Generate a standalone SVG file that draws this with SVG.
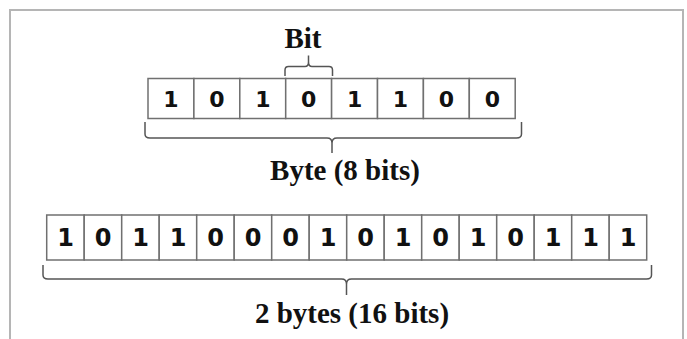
<svg xmlns="http://www.w3.org/2000/svg" width="687" height="339" viewBox="0 0 687 339">
<style>
.frame{fill:none;stroke:#b5b5b5;stroke-width:2}
.cell{fill:#fff;stroke:#707070;stroke-width:1.5}
.brace{fill:none;stroke:#555;stroke-width:1.5}
.d1{font-family:"DejaVu Sans",sans-serif;font-weight:bold;font-size:22px;fill:#111;text-anchor:middle}
.d2{font-family:"DejaVu Sans",sans-serif;font-weight:bold;font-size:24px;fill:#111;text-anchor:middle}
.lbl{font-family:"Liberation Serif","Times New Roman",serif;font-weight:bold;font-size:29px;fill:#111;text-anchor:middle}
</style>
<rect width="687" height="339" fill="#fff"/>
<path class="frame" d="M10,345 V10 H683 V345"/>
<g id="bit-label"><text class="lbl" x="303" y="48">Bit</text></g>
<g id="byte-row">
<rect class="cell" x="148" y="78.5" width="45.9" height="40"/>
<rect class="cell" x="193.9" y="78.5" width="45.9" height="40"/>
<rect class="cell" x="239.8" y="78.5" width="45.9" height="40"/>
<rect class="cell" x="285.7" y="78.5" width="45.9" height="40"/>
<rect class="cell" x="331.6" y="78.5" width="45.9" height="40"/>
<rect class="cell" x="377.5" y="78.5" width="45.9" height="40"/>
<rect class="cell" x="423.4" y="78.5" width="45.9" height="40"/>
<rect class="cell" x="469.3" y="78.5" width="45.9" height="40"/>
<text class="d1" x="171" y="107">1</text>
<text class="d1" x="216.9" y="107">0</text>
<text class="d1" x="262.8" y="107">1</text>
<text class="d1" x="308.7" y="107">0</text>
<text class="d1" x="354.6" y="107">1</text>
<text class="d1" x="400.5" y="107">1</text>
<text class="d1" x="446.4" y="107">0</text>
<text class="d1" x="492.3" y="107">0</text>
</g>
<g id="byte-label"><text class="lbl" x="345" y="180">Byte (8 bits)</text></g>
<g id="word-row">
<rect class="cell" x="46.7" y="215" width="37.5" height="45"/>
<rect class="cell" x="84.2" y="215" width="37.5" height="45"/>
<rect class="cell" x="121.7" y="215" width="37.5" height="45"/>
<rect class="cell" x="159.2" y="215" width="37.5" height="45"/>
<rect class="cell" x="196.7" y="215" width="37.5" height="45"/>
<rect class="cell" x="234.2" y="215" width="37.5" height="45"/>
<rect class="cell" x="271.7" y="215" width="37.5" height="45"/>
<rect class="cell" x="309.2" y="215" width="37.5" height="45"/>
<rect class="cell" x="346.7" y="215" width="37.5" height="45"/>
<rect class="cell" x="384.2" y="215" width="37.5" height="45"/>
<rect class="cell" x="421.7" y="215" width="37.5" height="45"/>
<rect class="cell" x="459.2" y="215" width="37.5" height="45"/>
<rect class="cell" x="496.7" y="215" width="37.5" height="45"/>
<rect class="cell" x="534.2" y="215" width="37.5" height="45"/>
<rect class="cell" x="571.7" y="215" width="37.5" height="45"/>
<rect class="cell" x="609.2" y="215" width="37.5" height="45"/>
<text class="d2" x="65.5" y="246">1</text>
<text class="d2" x="103" y="246">0</text>
<text class="d2" x="140.5" y="246">1</text>
<text class="d2" x="178" y="246">1</text>
<text class="d2" x="215.5" y="246">0</text>
<text class="d2" x="253" y="246">0</text>
<text class="d2" x="290.5" y="246">0</text>
<text class="d2" x="328" y="246">1</text>
<text class="d2" x="365.5" y="246">0</text>
<text class="d2" x="403" y="246">1</text>
<text class="d2" x="440.5" y="246">0</text>
<text class="d2" x="478" y="246">1</text>
<text class="d2" x="515.5" y="246">0</text>
<text class="d2" x="553" y="246">1</text>
<text class="d2" x="590.5" y="246">1</text>
<text class="d2" x="628" y="246">1</text>
</g>
<g id="word-label"><text class="lbl" x="352" y="323">2 bytes (16 bits)</text></g>
<g id="connectors">
<path class="brace" d="M285,76 V70 Q285,66.5 288.5,66.5 H305 Q308.5,66.5 308.5,62 V55.5 M308.5,62 Q308.5,66.5 312,66.5 H329 Q332.5,66.5 332.5,70 V76"/>
<path class="brace" d="M145,122 V134 Q145,138 150,138 H327 Q332,138 332,143 V153 M332,143 Q332,138 337,138 H516.5 Q521.5,138 521.5,134 V122"/>
<path class="brace" d="M43,265 V275 Q43,279 48,279 H341.5 Q346.5,279 346.5,284 V295 M346.5,284 Q346.5,279 351.5,279 H646.5 Q651.5,279 651.5,275 V265"/>
</g>
</svg>
